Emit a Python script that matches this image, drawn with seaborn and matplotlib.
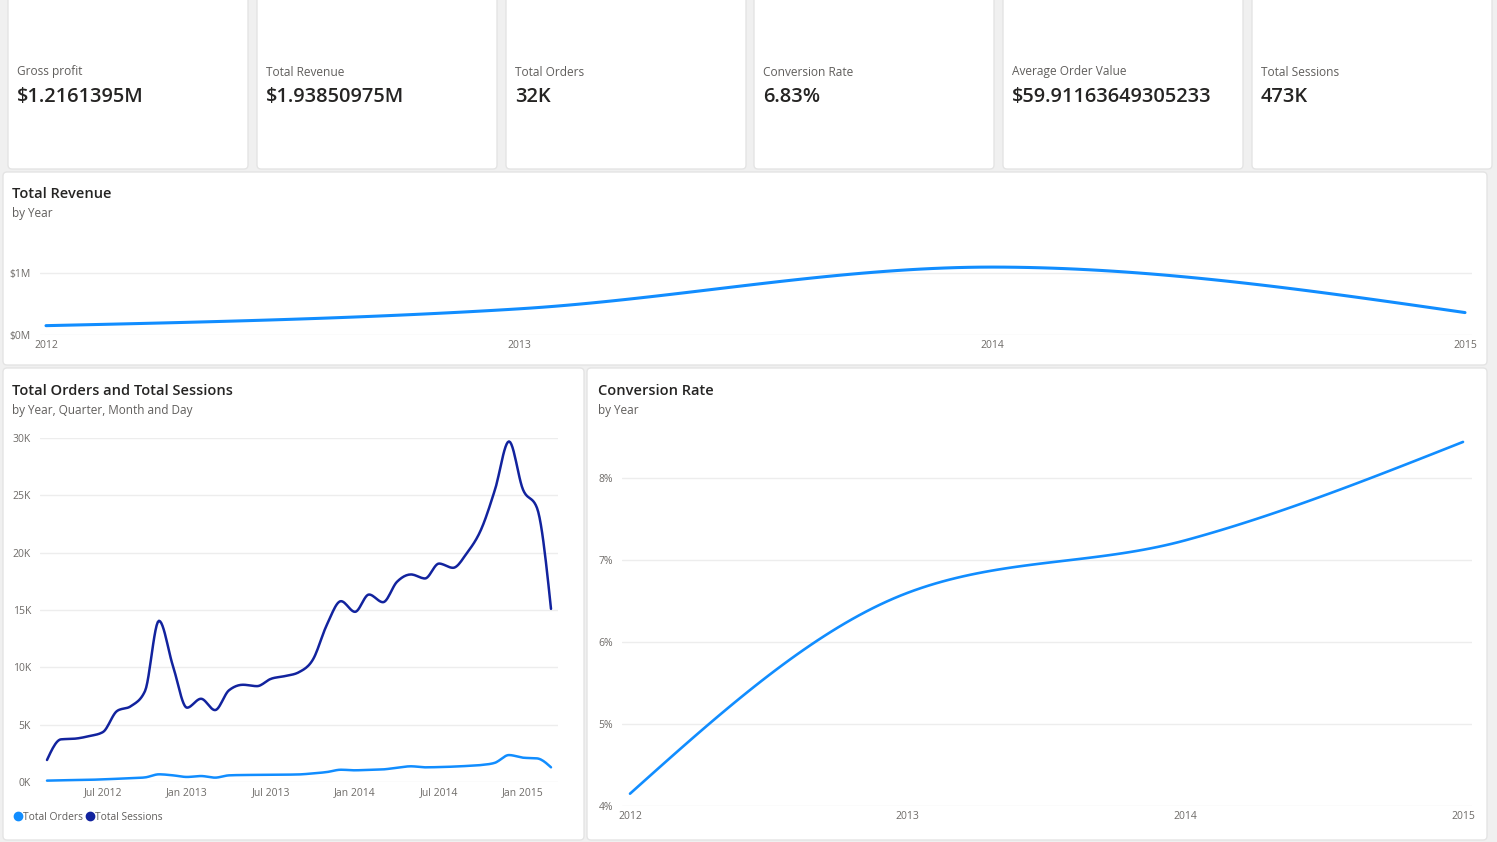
import matplotlib.pyplot as plt
import seaborn as sns
import numpy as np
import pandas as pd
from matplotlib.patches import FancyBboxPatch
from matplotlib.lines import Line2D

W, H = 1497, 842

# KPI cards
kpi_labels = ['Gross profit', 'Total Revenue', 'Total Orders', 'Conversion Rate',
              'Average Order Value', 'Total Sessions']
kpi_values = ['$1.2161395M', '$1.93850975M', '32K', '6.83%', '$59.91163649305233', '473K']

# Total revenue by year ($M)
rev_years = [2012, 2013, 2014, 2015]
rev_values = [0.15, 0.42, 1.09, 0.36]

# Monthly orders and sessions, Mar 2012 - Mar 2015
months = pd.date_range('2012-03-01', periods=37, freq='MS')
orders = [120, 150, 170, 190, 230, 280, 330, 400, 670, 580, 440, 520, 380,
          580, 610, 620, 630, 640, 660, 750, 870, 1070, 1020, 1070, 1100,
          1250, 1370, 1280, 1300, 1340, 1400, 1480, 1680, 2350, 2120, 2060, 1280]
sessions = [1920, 3720, 3780, 4000, 4360, 6190, 6620, 7930, 14060, 10100, 6480,
            7260, 6270, 8000, 8480, 8360, 9000, 9240, 9580, 10690, 13740, 15770,
            14840, 16350, 15680, 17460, 18100, 17750, 19050, 18680, 19980, 22000,
            25500, 29700, 25500, 23900, 15100]

# Conversion rate by year (%)
conv_years = [2012, 2013, 2014, 2015]
conv_values = [4.15, 6.60, 7.24, 8.44]

BLUE = '#118DFF'
NAVY = '#12239E'
GRID = '#EDEDED'
TICK = '#6E6B68'

sns.set_theme(style='white')
plt.rcParams['font.family'] = ['Open Sans', 'DejaVu Sans']


def smooth(x, y, n=40):
    # monotone-x curve (as used for smoothed lines) through the data points
    x = np.asarray(x, float)
    y = np.asarray(y, float)
    h = np.diff(x)
    s = np.diff(y) / h
    t = np.zeros(len(x))
    for i in range(1, len(x) - 1):
        p = (s[i - 1] * h[i] + s[i] * h[i - 1]) / (h[i - 1] + h[i])
        t[i] = (np.sign(s[i - 1]) + np.sign(s[i])) * min(abs(s[i - 1]), abs(s[i]), 0.5 * abs(p))
    t[0] = (3 * s[0] - t[1]) / 2
    t[-1] = (3 * s[-1] - t[-2]) / 2
    xs, ys = [], []
    for i in range(len(x) - 1):
        u = np.linspace(0, 1, n, endpoint=(i == len(x) - 2))
        h00 = 2 * u**3 - 3 * u**2 + 1
        h10 = u**3 - 2 * u**2 + u
        h01 = -2 * u**3 + 3 * u**2
        h11 = u**3 - u**2
        xs.append(x[i] + u * h[i])
        ys.append(h00 * y[i] + h10 * h[i] * t[i] + h01 * y[i + 1] + h11 * h[i] * t[i + 1])
    return np.concatenate(xs), np.concatenate(ys)


fig = plt.figure(figsize=(W / 100, H / 100), dpi=100, facecolor='#F0F0F0')


def panel(x0, y0, x1, y1):
    fig.patches.append(FancyBboxPatch(((x0) / 100, (H - y1) / 100), (x1 - x0) / 100, (y1 - y0) / 100,
                                      boxstyle='round,pad=0,rounding_size=0.04',
                                      transform=fig.dpi_scale_trans, facecolor='white',
                                      edgecolor='#E4E4E4', lw=1, zorder=-5))


def px_axes(x0, y0, x1, y1):
    ax = fig.add_axes([x0 / W, 1 - y1 / H, (x1 - x0) / W, (y1 - y0) / H])
    ax.set_facecolor('none')
    for sp in ax.spines.values():
        sp.set_visible(False)
    ax.grid(axis='y', color=GRID, lw=1)
    ax.grid(axis='x', visible=False)
    ax.tick_params(length=0, labelsize=7.5, labelcolor=TICK)
    ax.tick_params(axis='y', pad=6.5)
    ax.tick_params(axis='x', pad=3.5)
    ax.set_axisbelow(True)
    return ax


def ftext(x, y, s, **kw):
    fig.text(x / W, 1 - y / H, s, va='center', ha='left', **kw)


# KPI cards
card_x = [8, 257, 506, 754, 1003, 1252]
for cx, lab, val in zip(card_x, kpi_labels, kpi_values):
    panel(cx, -5, cx + 240, 169)
    ftext(cx + 9, 72, lab, fontsize=8.6, color='#605E5C')
    ftext(cx + 9, 97, val, fontsize=14.4, color='#252423', fontweight='semibold')

# Total Revenue panel
panel(3, 172, 1487, 365)
ftext(12, 194.5, 'Total Revenue', fontsize=10.5, color='#252423', fontweight='semibold')
ftext(12, 214, 'by Year', fontsize=8.5, color='#605E5C')
ax1 = px_axes(40, 335 - 1.25 * 62.3, 1472, 335)
sx, sy = smooth(rev_years, rev_values)
sns.lineplot(x=sx, y=sy, ax=ax1, color=BLUE, lw=2.2, sort=False, estimator=None)
ax1.set_xlim(2012 - 6 / 473, 2015 + 7 / 473)
ax1.set_ylim(0, 1.25)
ax1.set_yticks([0, 1], ['$0M', '$1M'])
ax1.set_xticks(rev_years, [str(y) for y in rev_years])

# Orders & Sessions panel
panel(3, 368, 584, 840)
ftext(12, 390.5, 'Total Orders and Total Sessions', fontsize=10.5, color='#252423', fontweight='semibold')
ftext(12, 410, 'by Year, Quarter, Month and Day', fontsize=8.45, color='#605E5C')
ax2 = px_axes(40, 438, 558, 782)
idx = np.arange(len(months))
ox, oy = smooth(idx, orders, 12)
sx, sy = smooth(idx, sessions, 12)
sns.lineplot(x=ox, y=oy, ax=ax2, color=BLUE, lw=1.8, sort=False, estimator=None)
sns.lineplot(x=sx, y=sy, ax=ax2, color=NAVY, lw=1.8, sort=False, estimator=None)
ax2.set_xlim(-0.5, len(months) - 0.5)
ax2.set_ylim(0, 30000)
ax2.set_yticks(range(0, 30001, 5000), [f'{v // 1000}K' for v in range(0, 30001, 5000)])
tick_pos = [i for i, m in enumerate(months) if m.month in (1, 7)]
ax2.set_xticks(tick_pos, [months[i].strftime('%b %Y') for i in tick_pos])
handles = [Line2D([], [], marker='o', ls='', color=BLUE, markersize=6, label='Total Orders'),
           Line2D([], [], marker='o', ls='', color=NAVY, markersize=6, label='Total Sessions')]
fig.legend(handles=handles, loc='center left', bbox_to_anchor=(15 / W, 1 - 817 / H), ncol=2,
           frameon=False, fontsize=7.4, labelcolor='#605E5C', handlelength=0.6,
           handletextpad=0.15, columnspacing=0.45, borderpad=0, borderaxespad=0)

# Conversion Rate panel
panel(587, 368, 1487, 840)
ftext(598, 390.5, 'Conversion Rate', fontsize=10.5, color='#252423', fontweight='semibold')
ftext(598, 410, 'by Year', fontsize=8.5, color='#605E5C')
ax3 = px_axes(622, 806 - 4.6 * 82, 1472, 806)
cx_, cy_ = smooth(conv_years, conv_values)
sns.lineplot(x=cx_, y=cy_, ax=ax3, color=BLUE, lw=1.9, sort=False, estimator=None)
ax3.set_xlim(2012 - 8 / 277.7, 2015 + 9 / 277.7)
ax3.set_ylim(4, 8.6)
ax3.set_yticks([4, 5, 6, 7, 8], ['4%', '5%', '6%', '7%', '8%'])
ax3.set_xticks(conv_years, [str(y) for y in conv_years])

fig.savefig('out.png', dpi=100, facecolor=fig.get_facecolor())
